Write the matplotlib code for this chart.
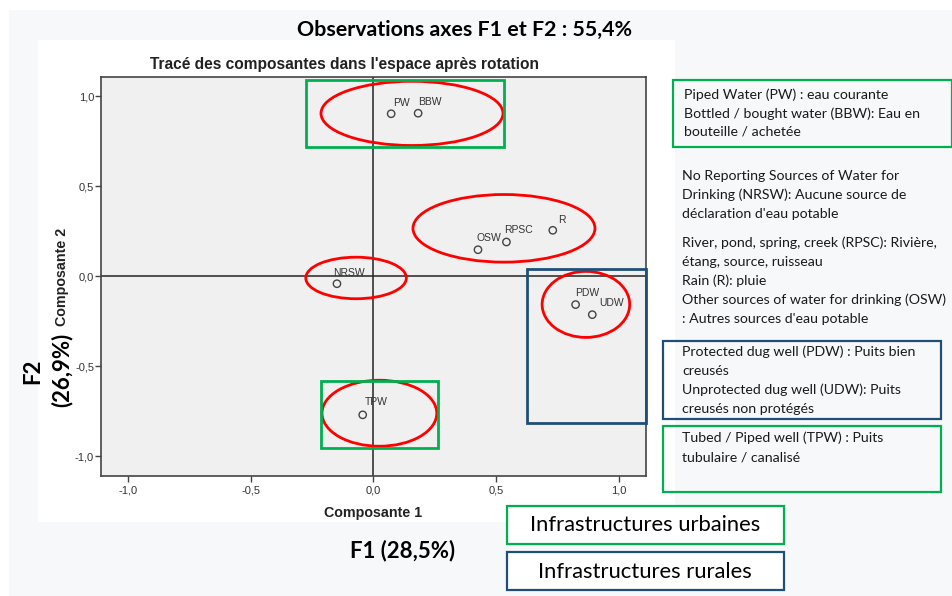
import matplotlib
matplotlib.use("Agg")
import matplotlib.pyplot as plt
from matplotlib.patches import Rectangle, Ellipse

# ---------------- data ----------------
labels = ["PW", "BBW", "OSW", "RPSC", "R", "NRSW", "PDW", "UDW", "TPW"]
comp1 = [0.073, 0.183, 0.427, 0.543, 0.732, -0.148, 0.825, 0.893, -0.043]
comp2 = [0.904, 0.907, 0.148, 0.191, 0.256, -0.041, -0.157, -0.213, -0.770]
tick_vals = [-1.0, -0.5, 0.0, 0.5, 1.0]
tick_labels = ["-1,0", "-0,5", "0,0", "0,5", "1,0"]

# label offsets in pixels (dx, dy)
label_offsets = [(2, 6), (0, 6), (-1, 7), (-2, 7), (5, 5), (-4, 6), (0, 7), (7, 7), (2, 8)]

# red ellipses: (cx, cy, width, height)
ellipses = [(0.158, 0.906, 0.742, 0.357),
            (0.533, 0.267, 0.742, 0.376),
            (-0.070, -0.009, 0.410, 0.231),
            (0.867, -0.156, 0.357, 0.367),
            (0.025, -0.761, 0.468, 0.367)]
# group boxes: (x0, x1, y0, y1, kind)
group_boxes = [(-0.275, 0.533, 0.719, 1.089, "urb"),
               (-0.212, 0.265, -0.954, -0.580, "urb"),
               (0.625, 1.110, -0.815, 0.041, "rur")]

GREEN = "#00b050"
BLUE = "#1f4e79"
RED = "#ff0000"
W, H = 953, 596

fig = plt.figure(figsize=(W / 100, H / 100), dpi=100)
fig.patch.set_facecolor("white")


def fx(px):
    return px / W


def fy(py):
    return 1 - py / H


def frect(x0, y0, x1, y1, **kw):
    r = Rectangle((fx(x0), fy(y1)), fx(x1) - fx(x0), fy(y0) - fy(y1),
                  transform=fig.transFigure, **kw)
    fig.patches.append(r)


# slide background and white chart image
frect(9, 10, 953, 596, facecolor="#f7f8fa", edgecolor="none", zorder=-2)
frect(38, 40, 675, 522, facecolor="white", edgecolor="none", zorder=-1)

SANS = ["Liberation Sans", "DejaVu Sans"]
SLIDE = ["Lato", "DejaVu Sans"]

# ---------------- axes ----------------
ax = fig.add_axes([fx(101), fy(476), fx(645.5) - fx(101), fy(76.7) - fy(476)])
ax.set_zorder(1)
ax.set_facecolor("#f0f0f0")
ax.set_xlim(-1.11, 1.11)
ax.set_ylim(-1.11, 1.11)
for s in ax.spines.values():
    s.set_color("#444444")
    s.set_linewidth(1.2)
ax.set_xticks(tick_vals)
ax.set_xticklabels(tick_labels, family=SANS, fontsize=8, color="#333333")
ax.set_yticks(tick_vals)
ax.set_yticklabels(tick_labels, family=SANS, fontsize=8, color="#333333")
ax.tick_params(length=4, width=1, color="#444444", pad=1)
ax.tick_params(axis="x", pad=3)
ax.axhline(0, color="#222222", lw=1.1, zorder=1)
ax.axvline(0, color="#222222", lw=1.1, zorder=1)

ax.scatter(comp1, comp2, s=28, facecolors="none", edgecolors="#444444",
           linewidths=1, zorder=3)
for lab, x, y, off in zip(labels, comp1, comp2, label_offsets):
    ax.annotate(lab, (x, y), xytext=(off[0] * 0.72, off[1] * 0.72),
                textcoords="offset points", ha="left", va="bottom",
                fontsize=7.5, family=SANS, color="#333333", zorder=4)

for cx, cy, w, h in ellipses:
    ax.add_patch(Ellipse((cx, cy), w, h, facecolor="none", edgecolor=RED,
                         lw=2, zorder=5, clip_on=False))
for x0, x1, y0, y1, kind in group_boxes:
    ax.add_patch(Rectangle((x0, y0), x1 - x0, y1 - y0, facecolor="none",
                           edgecolor=GREEN if kind == "urb" else BLUE,
                           lw=2, zorder=5, clip_on=False))

fig.text(fx(345), fy(64), "Tracé des composantes dans l'espace après rotation",
         family=SANS, fontsize=11.2, fontweight="bold", color="#222222",
         ha="center", va="center", zorder=2)

# axis titles
fig.text(fx(373), fy(513), "Composante 1", family=SANS, fontsize=10.3,
         fontweight="bold", ha="center", va="center", color="#222222", zorder=2)
fig.text(fx(62), fy(277), "Composante 2", family=SANS, fontsize=10.3,
         fontweight="bold", ha="center", va="center", rotation=90, color="#222222", zorder=2)

# slide texts
fig.text(fx(465), fy(30), "Observations axes F1 et F2 : 55,4%", family=SLIDE,
         fontsize=15.4, fontweight="bold", ha="center", va="center", color="black")
fig.text(fx(403), fy(551), "F1 (28,5%)", family=SLIDE, fontsize=16,
         fontweight="bold", ha="center", va="center", color="black")
fig.text(fx(33), fy(371), "F2", family=SLIDE, fontsize=16,
         fontweight="bold", ha="center", va="center", rotation=90, color="black")
fig.text(fx(62), fy(370), "(26,9%)", family=SLIDE, fontsize=16,
         fontweight="bold", ha="center", va="center", rotation=90, color="black", zorder=2)

# legend boxes on the right
frect(673, 80, 952, 147, facecolor="none", edgecolor=GREEN, lw=1.6, zorder=3)
frect(663, 341, 941, 419, facecolor="none", edgecolor=BLUE, lw=1.6, zorder=3)
frect(663, 426, 941, 492, facecolor="none", edgecolor=GREEN, lw=1.6, zorder=3)

legend_lines = [
    (684, 95, "Piped Water (PW) : eau courante"),
    (684, 114, "Bottled / bought water (BBW): Eau en"),
    (684, 132, "bouteille / achetée"),
    (682, 176, "No Reporting Sources of Water for"),
    (682, 195, "Drinking (NRSW): Aucune source de"),
    (682, 214, "déclaration d'eau potable"),
    (682, 243, "River, pond, spring, creek (RPSC): Rivière,"),
    (682, 262, "étang, source, ruisseau"),
    (682, 281, "Rain (R): pluie"),
    (682, 300, "Other sources of water for drinking (OSW)"),
    (682, 319, ": Autres sources d'eau potable"),
    (682, 352, "Protected dug well (PDW) : Puits bien"),
    (682, 371, "creusés"),
    (682, 390, "Unprotected dug well (UDW): Puits"),
    (682, 409, "creusés non protégés"),
    (682, 438, "Tubed / Piped well (TPW) : Puits"),
    (682, 457, "tubulaire / canalisé"),
]
for x, y, t in legend_lines:
    fig.text(fx(x), fy(y), t, family=SLIDE, fontsize=10.2, ha="left",
             va="center", color="#1a1a1a")

# bottom legend
frect(507, 506, 784, 544, facecolor="white", edgecolor=GREEN, lw=1.6, zorder=3)
frect(507, 552, 784, 590, facecolor="white", edgecolor=BLUE, lw=1.6, zorder=3)
fig.text(fx(645), fy(525), "Infrastructures urbaines", family=SLIDE, fontsize=15.8,
         ha="center", va="center", color="black", zorder=4)
fig.text(fx(645), fy(572), "Infrastructures rurales", family=SLIDE, fontsize=15.8,
         ha="center", va="center", color="black", zorder=4)

fig.savefig("out.png", dpi=100)
